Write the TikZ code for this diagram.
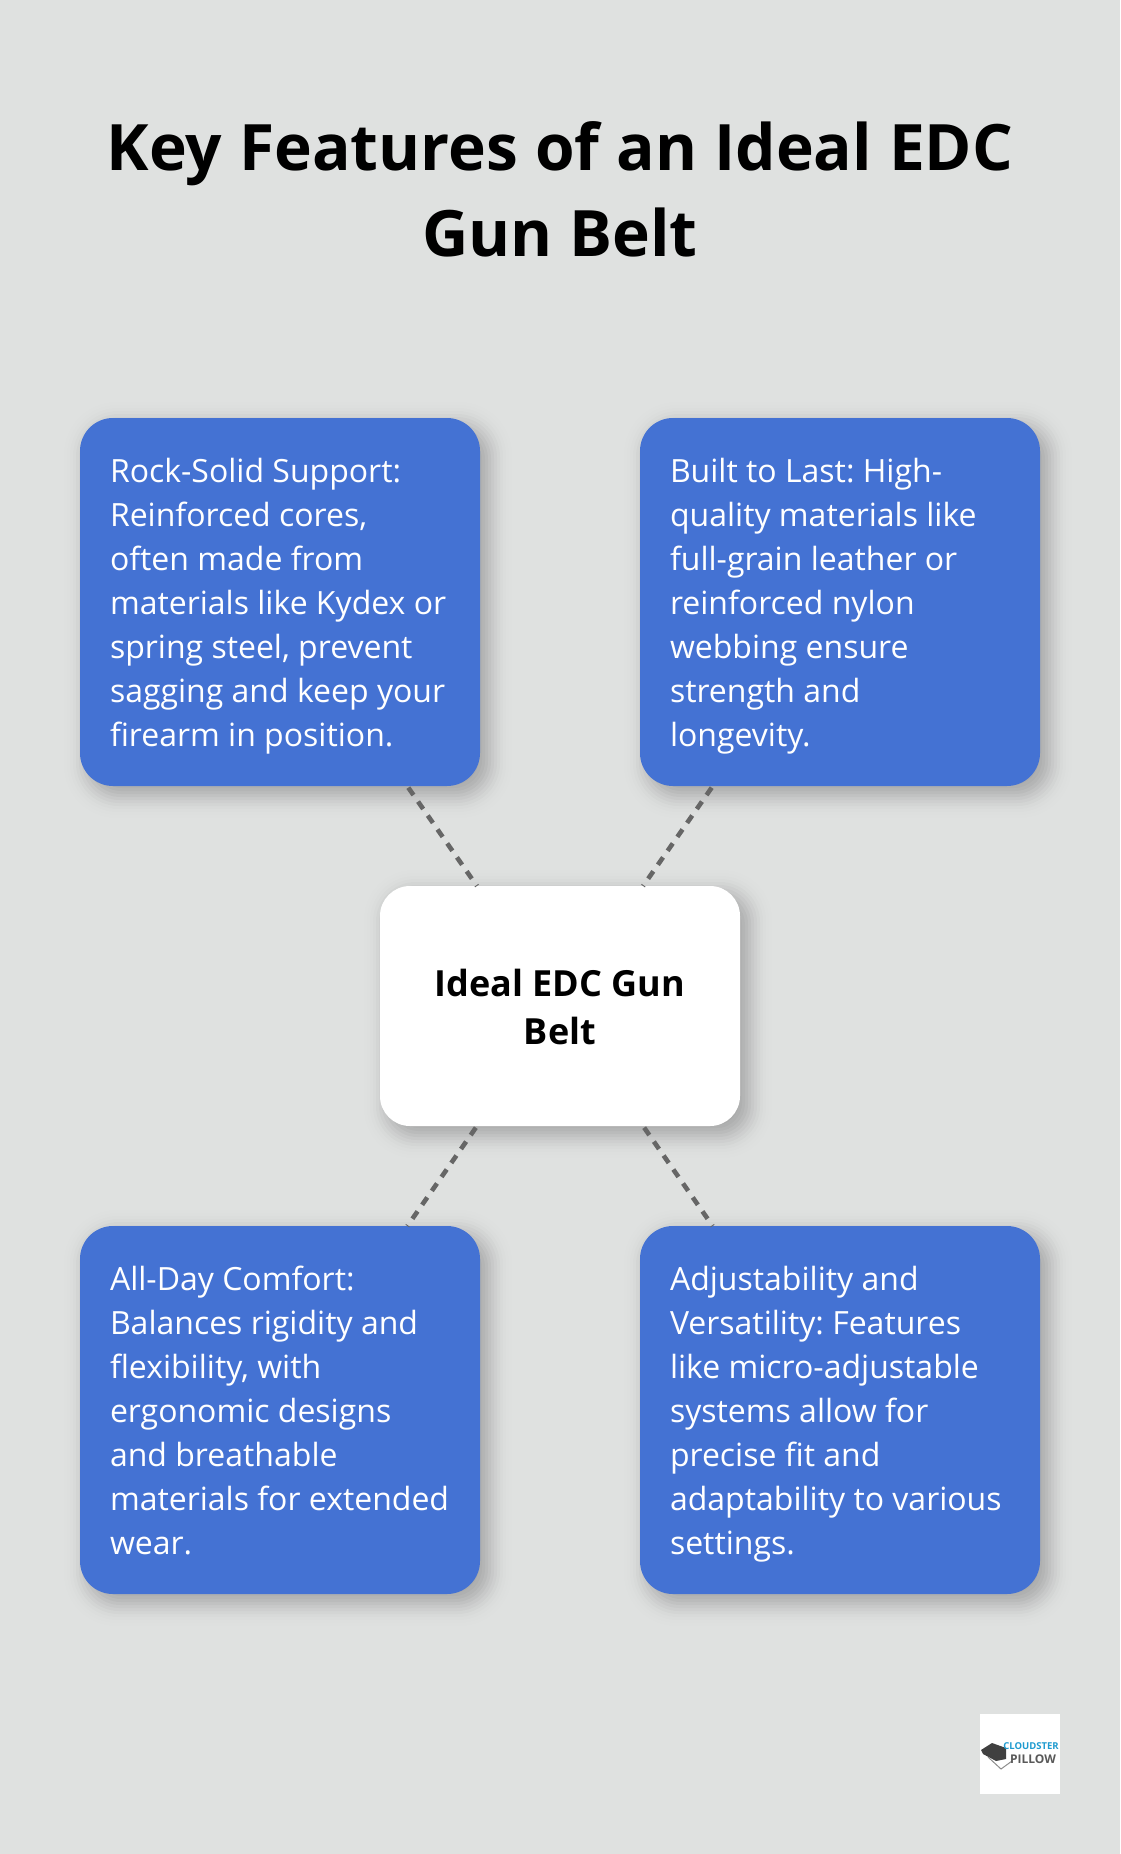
\documentclass[tikz,border=0pt]{standalone}
\usepackage{fontspec}
\setmainfont{Open Sans}
\usetikzlibrary{calc}
\definecolor{bgc}{HTML}{DFE1E0}
\definecolor{bluec}{HTML}{4472D3}
\definecolor{linec}{HTML}{666666}
\definecolor{logob}{HTML}{1E9BD0}
\newcommand{\softshadow}[5]{%
  \foreach \g in {-30,-27,...,30}{%
    \pgfmathsetmacro{\op}{0.034*exp(-(\g/15)*(\g/15))}
    \fill[black,opacity=\op,rounded corners={#5-\g*0.8}]
      ({#1+8+\g},{#2+8+\g}) rectangle ({#3+8-\g},{#4+8-\g});
  }%
}
\tikzset{
  bluebox/.style={rectangle,fill=bluec,rounded corners=33,minimum width=400,minimum height=368,
    text width=340,align=left,inner sep=0,outer sep=0,text=white,font=\fontsize{32}{44}\selectfont\frenchspacing,
    execute at begin node={\spaceskip=8.3pt\relax\hyphenpenalty=10000\rule{0pt}{38pt}},
    execute at end node={\rule[-14pt]{0pt}{14pt}}},
  centerbox/.style={rectangle,fill=white,rounded corners=30,minimum width=360,minimum height=240,
    text width=300,align=center,inner sep=0,outer sep=0,text=black,font=\fontsize{36}{48}\selectfont\bfseries\frenchspacing,
    execute at begin node={\spaceskip=9.4pt\relax\rule{0pt}{38pt}},
    execute at end node={\rule[-10pt]{0pt}{10pt}}},
  titletext/.style={text width=1000,align=center,inner sep=0,text=black,font=\fontsize{64}{86}\selectfont\bfseries\frenchspacing,
    execute at begin node={\spaceskip=17pt\relax}},
  linkline/.style={draw=linec,line width=4.6,dash pattern=on 9 off 8,shorten <=2},
}
\begin{document}
\begin{tikzpicture}[x=1pt,y=-1pt]
\useasboundingbox (0,0) rectangle (1120,1854);
\fill[bgc] (0,0) rectangle (1120,1854);
\node[titletext] (title) at (560,189) {Key Features of an Ideal EDC\\Gun Belt};
\softshadow{80}{418}{480}{786}{33}
\softshadow{640}{418}{1040}{786}{33}
\softshadow{80}{1226}{480}{1594}{33}
\softshadow{640}{1226}{1040}{1594}{33}
\softshadow{380}{886}{740}{1126}{30}
\node[bluebox] (a) at (280,602) {Rock-Solid Support:\\Reinforced cores,\\often made from\\materials like Kydex or\\spring steel, prevent\\sagging and keep your\\firearm in position.};
\node[bluebox] (b) at (840,602) {Built to Last: High-\\quality materials like\\full-grain leather or\\reinforced nylon\\webbing ensure\\strength and\\longevity.};
\node[bluebox] (c) at (280,1410) {All-Day Comfort:\\Balances rigidity and\\flexibility, with\\ergonomic designs\\and breathable\\materials for extended\\wear.};
\node[bluebox] (d) at (840,1410) {Adjustability and\\Versatility: Features\\like micro-adjustable\\systems allow for\\precise fit and\\adaptability to various\\settings.};
\node[centerbox] (m) at (560,1006) {Ideal EDC Gun\\Belt};
\draw[linkline] (a) -- (m);
\draw[linkline] (b) -- (m);
\draw[linkline] (m) -- (c);
\draw[linkline] (m) -- (d);
% logo
\node[rectangle,fill=white,minimum width=80,minimum height=80,inner sep=0,outer sep=0] (logo) at (1020,1754) {};
\fill[black!75] (981,1750) -- (992,1743) -- (1006,1748) -- (1006,1759) -- (996,1761) -- (983,1754) -- cycle;
\draw[black!45,line width=1] (988,1757) -- (1001,1769) -- (1012,1761);
\node[inner sep=0,text=logob,font=\fontsize{9.5}{10}\selectfont\bfseries] (logoa) at (1031,1746.5) {CLOUDSTER};
\node[inner sep=0,text=black!65,font=\fontsize{12}{12}\selectfont\bfseries] (logob) at (1033,1759) {PILLOW};
\end{tikzpicture}
\end{document}
